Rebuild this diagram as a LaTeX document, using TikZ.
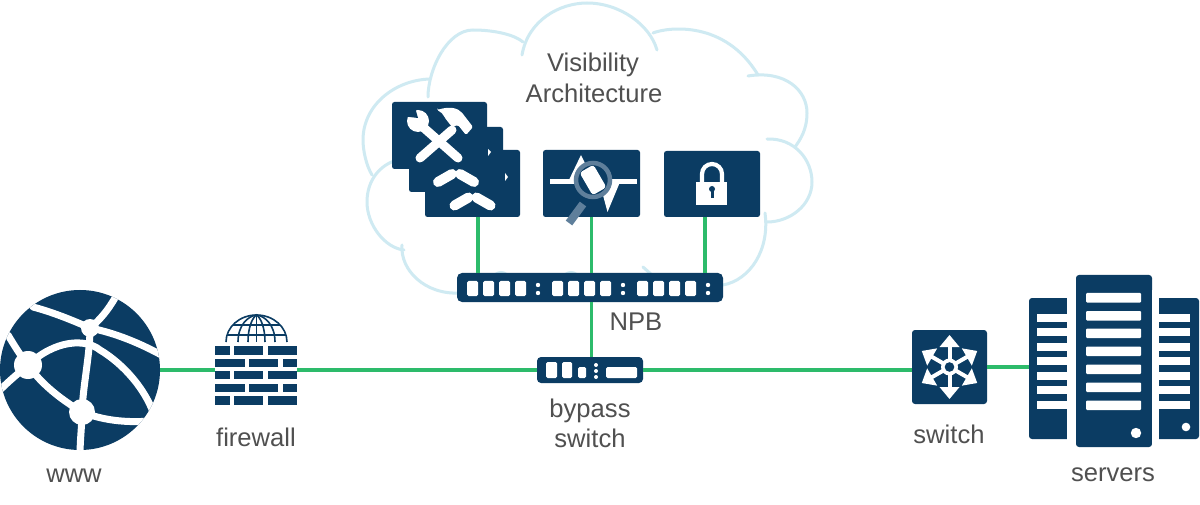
\documentclass[tikz,border=0pt]{standalone}
\usepackage{fontspec}
\setmainfont{Liberation Sans}
\definecolor{navy}{HTML}{0B3C63}
\definecolor{cloudc}{HTML}{CFEAF2}
\definecolor{linkc}{HTML}{2DBB6B}
\definecolor{lens}{HTML}{5F7F9B}
\definecolor{txt}{HTML}{505050}
\tikzset{
  card/.style={fill=navy,rounded corners=2.5pt,inner sep=0pt,outer sep=0pt,draw=none},
  cloudline/.style={draw=cloudc,line width=3pt,line cap=round},
  link/.style={draw=linkc,line width=3.6pt},
  port/.style={fill=white,rounded corners=1.5pt,draw=none},
  label/.style={font=\fontsize{25.6}{29}\selectfont,text=txt,inner sep=0pt,align=center},
  tool/.style={white,line width=9pt,line cap=round},
  spoke/.style={white,line width=4pt},
  net/.style={white,line width=7pt,line cap=round},
  wire/.style={navy,line width=1.6pt}
}
\begin{document}
\begin{tikzpicture}[x=1pt,y=-1pt]
\useasboundingbox (0,0) rectangle (1200,505);
\fill[white] (0,0) rectangle (1200,505);
% cloud
\draw[cloudline] (522,55) .. controls (528,20) and (560,3) .. (587,3) .. controls (620,3) and (650,25) .. (657,50);
\draw[cloudline] (653,33) .. controls (668,27) and (725,20) .. (758,75);
\draw[cloudline] (748,76) .. controls (785,70) and (807,90) .. (807,113) .. controls (807,130) and (800,140) .. (795,147);
\draw[cloudline] (767,139) .. controls (795,138) and (812,160) .. (812,182) .. controls (812,205) and (790,222) .. (767,222);
\draw[cloudline] (765,213) .. controls (770,250) and (750,280) .. (723,285);
\draw[cloudline] (402,245) .. controls (400,270) and (425,295) .. (460,293);
\draw[cloudline] (397,160) .. controls (380,165) and (367,180) .. (367,202) .. controls (367,225) and (385,248) .. (404,250);
\draw[cloudline] (430,79) .. controls (395,80) and (363,105) .. (363,140) .. controls (363,150) and (366,165) .. (372,175);
\draw[cloudline] (428,97) .. controls (428,70) and (447,30) .. (473,30) .. controls (495,30) and (515,35) .. (523,42);
\draw[cloudline] (643,267) -- (652,275);
\draw[cloudline] (490,280) .. controls (497,270) and (505,270) .. (512,280);
\draw[cloudline] (560,280) .. controls (567,270) and (575,270) .. (582,280);
% labels
\node[label] (lviz) at (593,65) {Visibility};
\node[label] (larch) at (594,93) {Architecture};
\node[label] (lwww) at (74,476) {www};
\node[label] (lfw) at (256,437) {firewall};
\node[label] (lbyp1) at (590,411) {bypass};
\node[label] (lbyp2) at (590,438) {switch};
\node[label] (lsw) at (949,434) {switch};
\node[label] (lsrv) at (1113,475) {servers};
\node[label] (lnpb) at (636,322) {NPB};
% tool cards
\node[card,minimum width=95pt,minimum height=67pt] (tool1) at (439.5,135.5) {};
\node[card,minimum width=94pt,minimum height=65pt] (tool2) at (456,159.5) {};
\node[card,minimum width=95pt,minimum height=67pt] (tool3) at (472.5,183.5) {};
\fill[white] (488,149) -- (491,152) -- (488,156) -- cycle;
\fill[white] (505,173) -- (508,177) -- (505,181) -- cycle;
% tools
\draw[tool] (420,158) -- (452,130);
\fill[white,rounded corners=1.5pt] (437,110) .. controls (450,106) and (458,108) .. (463,114) -- (473,127) -- (466,135) -- (458,125) -- (452,127) -- (445,118) .. controls (443,114) and (441,112) .. (437,110) -- cycle;
\draw[tool] (458,158) -- (424,128);
\fill[white] (418,121) circle (11pt);
\fill[navy] (418,118) -- (414,104) -- (401,116) -- cycle;
\draw[tool,line width=10pt] (438,182) -- (452,174);
\draw[tool,line width=10pt] (474,182) -- (460,174);
\draw[tool,line width=10pt] (454.5,205.5) -- (468.5,197.5);
\draw[tool,line width=10pt] (490.5,205.5) -- (476.5,197.5);
% analyzer
\node[card,minimum width=97pt,minimum height=67pt] (ana) at (591.5,183.5) {};
\draw[white,line width=5pt] (550,182) -- (637,182);
\fill[white] (568,182) -- (581,155) -- (594,182) -- cycle;
\fill[white] (600,184) -- (607.5,212) -- (620,182) -- cycle;
\fill[navy] (593,180) circle (17pt);
\fill[white,rounded corners=3pt,rotate around={-60:(593,180)}] (580,172) rectangle (606,188);
\draw[lens,line width=4.5pt] (593,180) circle (17pt);
\draw[lens,line width=8pt] (583,204) -- (569,223);
% lock
\node[card,minimum width=96pt,minimum height=66pt] (lock) at (712,184) {};
\draw[white,line width=4.2pt] (702,183) -- (702,174) arc[start angle=180,end angle=0,radius=10pt] -- (722,183);
\fill[white] (696,182) rectangle (727,205);
\fill[navy] (712,189) circle (3pt);
\fill[navy] (710.5,189) rectangle (713.5,198);
% NPB
\node[card,rounded corners=5pt,minimum width=266pt,minimum height=29pt] (npb) at (590,287.5) {};
\foreach \x in {467,483,499,515,552,568,584,600,637,653,669,685}
  \fill[port] (\x,281) rectangle +(11,15);
\foreach \x in {538,623,708}{
  \fill[white] (\x,285) circle (2.2pt);
  \fill[white] (\x,293) circle (2.2pt);
}
% bypass
\node[card,rounded corners=4pt,minimum width=106pt,minimum height=26pt] (byp) at (590,370) {};
\fill[port] (546,362) rectangle (557,378);
\fill[port] (562,362) rectangle (572,378);
\fill[port] (578,367) rectangle (586,378);
\fill[port] (606,367) rectangle (637,378);
\foreach \y in {365,371,377} \fill[white] (596,\y) circle (2pt);
% globe
\node[circle,fill=navy,inner sep=0pt,outer sep=0pt,minimum size=160pt] (www) at (80,370) {};
\begin{scope}
\clip (80,370) circle (80pt);
\draw[net] (33,307) .. controls (52,312) and (72,320) .. (90,328);
\draw[net] (115,298) .. controls (108,310) and (100,320) .. (90,328) .. controls (115,333) and (140,343) .. (165,357);
\draw[net] (8,335) .. controls (14,345) and (20,355) .. (28,365);
\draw[net] (28,365) .. controls (20,372) and (10,380) .. (0,390);
\draw[net] (28,365) .. controls (55,340) and (85,338) .. (100,350) .. controls (125,365) and (145,390) .. (153,412);
\draw[net] (90,328) .. controls (90,355) and (83,385) .. (82,412);
\draw[net] (28,365) .. controls (42,385) and (62,400) .. (82,412);
\draw[net] (82,412) .. controls (82,425) and (80,440) .. (80,455);
\draw[net] (82,412) .. controls (102,420) and (125,423) .. (150,421);
\fill[white] (28,365) circle (14pt);
\fill[white] (90,328) circle (9pt);
\fill[white] (82,412) circle (13pt);
\end{scope}
% firewall
\node[inner sep=0pt,outer sep=0pt,fill=white,minimum width=82pt,minimum height=70pt] (fw) at (256,370) {};
\foreach \y/\h in {346/9,371/8,396/9}{
  \fill[navy] (215,\y) rectangle +(15,\h);
  \fill[navy] (234,\y) rectangle +(29,\h);
  \fill[navy] (268,\y) rectangle +(29,\h);
}
\foreach \y in {359,384}{
  \fill[navy] (215,\y) rectangle +(30,8);
  \fill[navy] (249,\y) rectangle +(29,8);
  \fill[navy] (283,\y) rectangle +(14,8);
}
\draw[wire] (226,342) arc[start angle=180,end angle=0,x radius=30.5pt,y radius=27pt];
\draw[wire] (238,342) .. controls (238,325) and (248,316) .. (256.5,315) .. controls (265,316) and (275,325) .. (275,342);
\draw[wire] (248,342) .. controls (248,328) and (252,318) .. (256.5,315) .. controls (261,318) and (265,328) .. (265,342);
\draw[wire] (256.5,315) -- (256.5,342);
\draw[wire] (233,325) -- (280,325);
\draw[wire] (227,335) -- (286,335);
% switch
\node[card,rounded corners=3pt,minimum width=75pt,minimum height=74pt] (sw) at (949.5,367) {};
\foreach \a in {90,30,-30,-90,150,210}{
  \begin{scope}[shift={(949.5,367)},rotate=\a]
    \draw[spoke] (0,0) -- (21,0);
    \fill[white] (32,0) -- (20,-10) -- (20,10) -- cycle;
  \end{scope}
}
\fill[white] (949.5,367) circle (8.5pt);
\fill[navy] (949.5,367) circle (4.8pt);
% servers
\fill[navy,rounded corners=3pt] (1076,275) rectangle (1152,447);
\node[inner sep=0pt,outer sep=0pt,minimum width=76pt,minimum height=172pt] (srvc) at (1114,361) {};
\foreach \y in {293,311,328.5,346.5,364.5,382.5,400.5}
  \fill[port,rounded corners=1pt] (1086,\y) rectangle +(55,9.5);
\fill[white] (1136,433) circle (5.2pt);
\node[inner sep=0pt,outer sep=0pt,minimum width=38pt,minimum height=141pt] (srvl) at (1048,368.5) {};
\fill[navy,rounded corners=3pt] (1029,298) rectangle (1072,439);
\fill[white] (1067,290) rectangle (1076,445);
\node[inner sep=0pt,outer sep=0pt,minimum width=40pt,minimum height=141pt] (srvr) at (1179,368.5) {};
\fill[navy,rounded corners=3pt] (1154,298) rectangle (1199,439);
\fill[white] (1152,290) rectangle (1159,445);
\foreach \y in {314,328,343,357,372,386,401}{
  \fill[white] (1037,\y) rectangle (1067,\y+7.5);
  \fill[white] (1159,\y) rectangle (1190,\y+7.5);
}
\fill[white] (1186,427) circle (4.3pt);
% connectors
\draw[link] (www.east) -- (fw.west);
\draw[link] (fw.east) -- (byp.west);
\draw[link] (byp.east) -- (byp.east -| sw.west);
\draw[link] (sw.east) -- (sw.east -| srvl.west);
\draw[link] (npb.south -| ana.south) -- (byp.north -| ana.south);
\draw[link] ([xshift=5.5pt]tool3.south) -- ([xshift=5.5pt]tool3.south |- npb.north);
\draw[link] (ana.south) -- (ana.south |- npb.north);
\draw[link] ([xshift=-7pt]lock.south) -- ([xshift=-7pt]lock.south |- npb.north);
\end{tikzpicture}
\end{document}
